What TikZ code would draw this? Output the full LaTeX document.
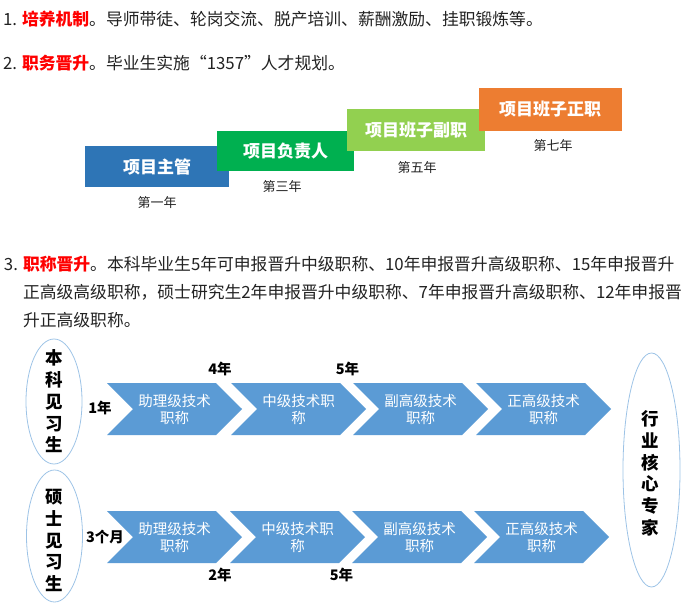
\documentclass[tikz,border=0pt]{standalone}
\usepackage{fontspec}
\setmainfont{Noto Sans CJK SC}
\usepackage{tikz}
\usetikzlibrary{shapes.geometric}
\usetikzlibrary{shapes.symbols}
\usepackage{xcolor}
\definecolor{stepblue}{HTML}{2E75B6}
\definecolor{stepgreen}{HTML}{00B050}
\definecolor{steplime}{HTML}{92D050}
\definecolor{steporange}{HTML}{ED7D31}
\definecolor{chevblue}{HTML}{5B9BD5}
\definecolor{rimblue}{HTML}{9DC3E6}
\definecolor{bodytext}{HTML}{222222}
\newcommand{\keyterm}[1]{{\color{red}\bfseries #1}}

\begin{document}
\begin{tikzpicture}[x=1pt, y=-1pt,
        every node/.style={inner sep=0pt, outer sep=0pt, text=bodytext},
        para/.style={anchor=base west, font=\fontsize{16.8}{20}\selectfont},
        stepbox/.style={fill=#1, text=white, font=\fontsize{17}{20}\selectfont\bfseries},
        yearlbl/.style={font=\fontsize{13}{15}\selectfont},
        chev/.style={signal, signal from=west, signal to=east, fill=chevblue,
            minimum width=135pt, minimum height=52pt, text=white, align=center,
            font=\fontsize{14.5}{17}\selectfont},
        rim/.style={ellipse, draw=rimblue, line width=0.8pt},
        vtext/.style={align=center, text=black, font=\fontsize{17.5}{21.7}\selectfont\bfseries},
        gaplbl/.style={text=black, font=\fontsize{14.5}{17}\selectfont\bfseries}]
            \useasboundingbox (0, 0) rectangle (687, 604);

            \node[para] (l1) at (3.0, 26.0) {1. \keyterm{培养机制}。导师带徒、轮岗交流、脱产培训、薪酬激励、挂职锻炼等。};
            \node[para] (l2) at (3.0, 70.0) {2. \keyterm{职务晋升}。毕业生实施“1357”人才规划。};

            \node[stepbox=stepblue, minimum width=144pt, minimum height=41pt] (zg) at (157.0, 166.5) {项目主管};
            \node[stepbox=stepgreen, minimum width=137pt, minimum height=40pt] (fzr) at (285.5, 151.0) {项目负责人};
            \node[stepbox=steplime, minimum width=138pt, minimum height=42pt] (fz) at (416.0, 130.0) {项目班子副职};
            \node[stepbox=steporange, minimum width=143pt, minimum height=43pt] (zz) at (550.0, 109.5) {项目班子正职};

            \node[yearlbl] (y1) at (157.0, 203.0) {第一年};
            \node[yearlbl] (y3) at (282.0, 187.0) {第三年};
            \node[yearlbl] (y5) at (417.0, 168.0) {第五年};
            \node[yearlbl] (y7) at (553.0, 146.0) {第七年};

            \node[para] (l3a) at (4.0, 270.0) {3. \keyterm{职称晋升}。本科毕业生5年可申报晋升中级职称、10年申报晋升高级职称、15年申报晋升};
            \node[para] (l3b) at (23.0, 298.5) {正高级高级职称，硕士研究生2年申报晋升中级职称、7年申报晋升高级职称、12年申报晋};
            \node[para] (l3c) at (23.0, 326.0) {升正高级职称。};

            \node[rim, minimum width=56pt, minimum height=125pt] (bk) at (54.0, 401.5) {};
            \node[vtext] (bk_t) at (54.0, 401.5) {本\\科\\见\\习\\生};
            \node[rim, minimum width=56pt, minimum height=132pt] (ss) at (54.5, 536.0) {};
            \node[vtext] (ss_t) at (54.5, 540.5) {硕\\士\\见\\习\\生};
            \node[rim, minimum width=57pt, minimum height=234pt] (hx) at (651.5, 470.0) {};
            \node[vtext] (hx_t) at (650.0, 473.5) {行\\业\\核\\心\\专\\家};

            \node[chev] (bk_1) at (174.5, 409.0) {助理级技术\\职称};
            \node[chev] (bk_2) at (298.5, 409.0) {中级技术职\\称};
            \node[chev] (bk_3) at (420.5, 409.0) {副高级技术\\职称};
            \node[chev] (bk_4) at (543.5, 409.0) {正高级技术\\职称};
            \node[chev] (ss_1) at (174.5, 537.0) {助理级技术\\职称};
            \node[chev] (ss_2) at (297.5, 537.0) {中级技术职\\称};
            \node[chev] (ss_3) at (419.5, 537.0) {副高级技术\\职称};
            \node[chev] (ss_4) at (541.5, 537.0) {正高级技术\\职称};

            \node[gaplbl] (bk_y0) at (100.0, 408.0) {1年};
            \node[gaplbl] (bk_y1) at (220.0, 369.0) {4年};
            \node[gaplbl] (bk_y2) at (347.5, 369.0) {5年};
            \node[gaplbl] (ss_y0) at (105.0, 537.0) {3个月};
            \node[gaplbl] (ss_y1) at (220.0, 575.0) {2年};
            \node[gaplbl] (ss_y2) at (341.5, 575.0) {5年};
        \end{tikzpicture}
\end{document}
